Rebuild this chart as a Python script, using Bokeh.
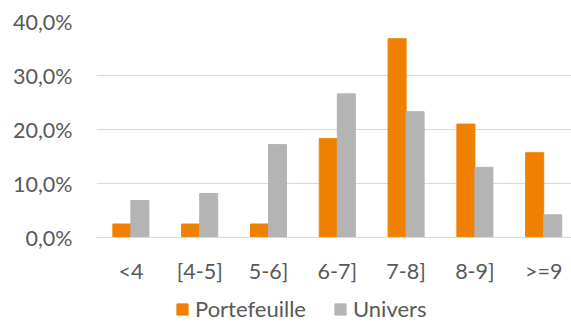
from bokeh.plotting import figure
from bokeh.models import Range1d, FixedTicker, Legend, LegendItem, ColumnDataSource
from bokeh.layouts import column
from bokeh.transform import dodge
from bokeh.embed import file_html
from bokeh.resources import INLINE

categories = ["<4", "[4-5]", "5-6]", "6-7]", "7-8]", "8-9]", ">=9"]
portefeuille = [2.5, 2.5, 2.5, 18.3, 36.8, 21.0, 15.7]
univers = [6.85, 8.15, 17.2, 26.6, 23.3, 13.0, 4.2]
y_ticks = [0, 10, 20, 30, 40]
y_tick_labels = ["0,0%", "10,0%", "20,0%", "30,0%", "40,0%"]
series_names = ["Portefeuille", "Univers"]

ORANGE = "#F08000"
GRAY = "#B4B4B4"
TEXT = "#595959"
GRID = "#D9D9D9"
FONT = "Lato"

xpos = [i + 0.5 for i in range(len(categories))]
src = ColumnDataSource(dict(x=xpos, p=portefeuille, u=univers))

p = figure(width=571, height=290, output_backend="svg", toolbar_location=None,
           x_range=Range1d(0, 6.904), y_range=Range1d(0, 40),
           min_border_left=96, min_border_right=0, min_border_top=21,
           min_border_bottom=53)
p.outline_line_color = None
p.background_fill_color = "white"
p.border_fill_color = "white"

bw = 0.262
p.vbar(x=dodge("x", -bw / 2, range=p.x_range), top="p", width=bw, bottom=0,
       source=src, fill_color=ORANGE, line_color=ORANGE)
p.vbar(x=dodge("x", bw / 2, range=p.x_range), top="u", width=bw, bottom=0,
       source=src, fill_color=GRAY, line_color=GRAY)

p.xgrid.visible = False
p.ygrid.grid_line_color = GRID
p.ygrid.grid_line_width = 1
p.ygrid.ticker = FixedTicker(ticks=y_ticks)

p.yaxis.ticker = FixedTicker(ticks=y_ticks)
p.yaxis.major_label_overrides = {t: l for t, l in zip(y_ticks, y_tick_labels)}
p.yaxis.axis_line_color = None
p.yaxis.major_tick_line_color = None
p.yaxis.minor_tick_line_color = None
p.yaxis.major_label_standoff = 18
p.yaxis.major_label_text_font = FONT
p.yaxis.major_label_text_font_size = "21.5px"
p.yaxis.major_label_text_color = TEXT

p.xaxis.ticker = FixedTicker(ticks=xpos)
p.xaxis.major_label_overrides = {x: c for x, c in zip(xpos, categories)}
p.xaxis.axis_line_color = GRID
p.xaxis.major_tick_line_color = None
p.xaxis.minor_tick_line_color = None
p.xaxis.major_label_standoff = 14
p.xaxis.major_label_text_font = FONT
p.xaxis.major_label_text_font_size = "21.5px"
p.xaxis.major_label_text_color = TEXT

# Legend strip below the chart
lg = figure(width=571, height=32, output_backend="svg", toolbar_location=None,
            x_range=Range1d(0, 1), y_range=Range1d(0, 1),
            x_axis_location=None, y_axis_location=None,
            min_border_left=0, min_border_right=0, min_border_top=0,
            min_border_bottom=0)
lg.outline_line_color = None
lg.grid.visible = False
lg.border_fill_color = "white"
k1 = lg.vbar(x=[-5], top=[0], width=0.1, fill_color=ORANGE, line_color=ORANGE)
k2 = lg.vbar(x=[-5], top=[0], width=0.1, fill_color=GRAY, line_color=GRAY)

legend = Legend(items=[LegendItem(label=series_names[0], renderers=[k1]),
                       LegendItem(label=series_names[1], renderers=[k2])],
                orientation="horizontal", location=(79, 0),
                glyph_width=14, glyph_height=14, label_standoff=6, spacing=27,
                padding=0, margin=0, border_line_color=None,
                background_fill_alpha=0,
                label_text_font=FONT, label_text_font_size="22px",
                label_text_color=TEXT, label_height=22)
lg.add_layout(legend, "center")

layout = column(p, lg, spacing=0)
open("out.html", "w").write(file_html(layout, INLINE))
